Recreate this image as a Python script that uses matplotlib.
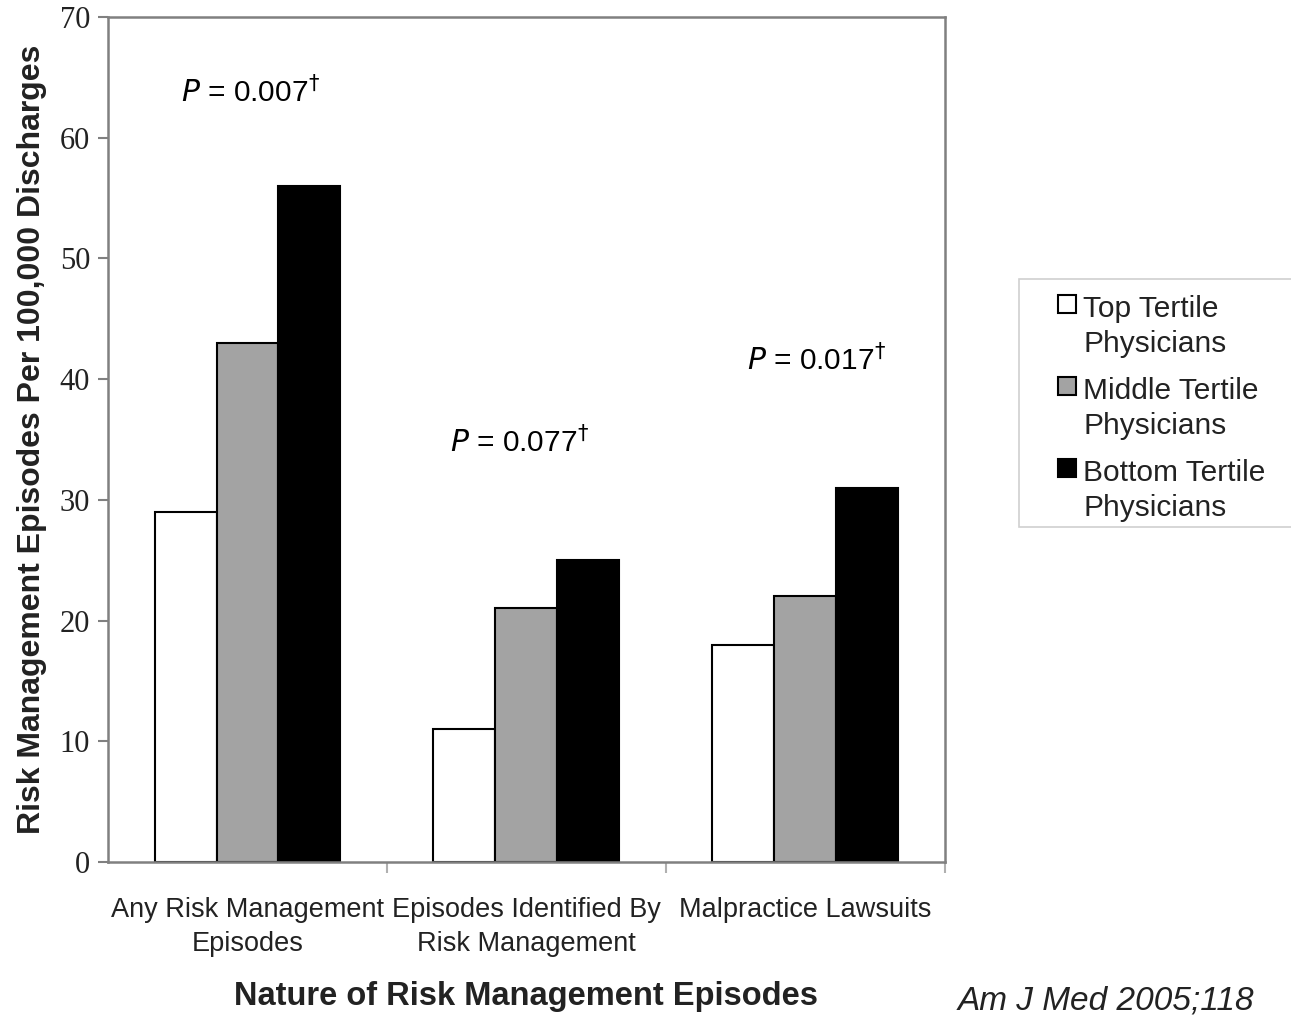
import numpy as np
import matplotlib.pyplot as plt
from matplotlib.patches import Rectangle
from matplotlib.ticker import FixedLocator

categories = ["Any Risk Management\nEpisodes", "Episodes Identified By\nRisk Management", "Malpractice Lawsuits"]
series_names = ["Top Tertile\nPhysicians", "Middle Tertile\nPhysicians", "Bottom Tertile\nPhysicians"]
top_tertile = [29, 11, 18]
middle_tertile = [43, 21, 22]
bottom_tertile = [56, 25, 31]
p_labels = ["0.007", "0.077", "0.017"]
p_heights = [63.8, 34.8, 41.6]

W, H = 1291, 1016
fig = plt.figure(figsize=(W / 100, H / 100), dpi=100)
ax = fig.add_axes([0.0837, 0.1516, 0.6480, 0.8317])

x = np.arange(len(categories))
w = 0.222
colors = ["white", "#a3a3a3", "black"]
for i, (vals, c) in enumerate(zip([top_tertile, middle_tertile, bottom_tertile], colors)):
    ax.bar(x + (i - 1) * w, vals, w, color=c, edgecolor="black", linewidth=1.5,
           label=series_names[i])

# p values over each group
offsets = [0.01, -0.025, 0.04]
for i, (p, h) in enumerate(zip(p_labels, p_heights)):
    ax.text(x[i] + offsets[i], h, r"$P$ = " + p + r"$^{\dagger}$", ha="center", va="center",
            fontsize=21.5, family="Liberation Sans")

ax.set_xlim(-0.5, 2.5)
ax.set_ylim(0, 70)
ax.set_yticks(range(0, 71, 10))
for lab in ax.get_yticklabels():
    lab.set_family("Liberation Serif")
    lab.set_fontsize(22)
    lab.set_color("#222222")
ax.set_xticks(x)
ax.set_xticklabels(categories, fontsize=19.5, family="Liberation Sans", color="#222222",
                   linespacing=1.42)
ax.tick_params(axis="x", which="major", length=0, pad=25)
ax.xaxis.set_minor_locator(FixedLocator([0.5, 1.5, 2.5]))
ax.tick_params(axis="x", which="minor", length=8, color="#b0b0b0", width=1.5)
ax.tick_params(axis="y", length=7, color="#808080", width=1.5, pad=6)

for s in ax.spines.values():
    s.set_color("#808080")
    s.set_linewidth(1.8)

ax.set_ylabel("Risk Management Episodes Per 100,000 Discharges", fontsize=23,
              fontweight="bold", family="Liberation Sans", labelpad=9, color="#222222")
ax.set_xlabel("Nature of Risk Management Episodes", fontsize=23.5, fontweight="bold",
              family="Liberation Sans", labelpad=17, color="#222222")

# legend drawn by hand so the swatch sits on the first line of each label
fig.add_artist(Rectangle((1019 / W, 1 - 527 / H), 300 / W, 248 / H, transform=fig.transFigure,
                         facecolor="white", edgecolor="#d0d0d0", linewidth=1.2))
for i, (name, c) in enumerate(zip(series_names, colors)):
    top = 295 + 82 * i
    fig.add_artist(Rectangle((1058 / W, 1 - (top + 18) / H), 18 / W, 18 / H,
                             transform=fig.transFigure, facecolor=c, edgecolor="black",
                             linewidth=1.5))
    fig.text(1083 / W, 1 - top / H, name, fontsize=21.5, family="Liberation Sans",
             color="#222222", va="top", ha="left", linespacing=1.31)

fig.text(958 / W, 0.0, "Am J Med 2005;118", fontsize=24, style="italic",
         family="Liberation Sans", color="#222222", va="bottom")

fig.savefig("out.png", dpi=100)
